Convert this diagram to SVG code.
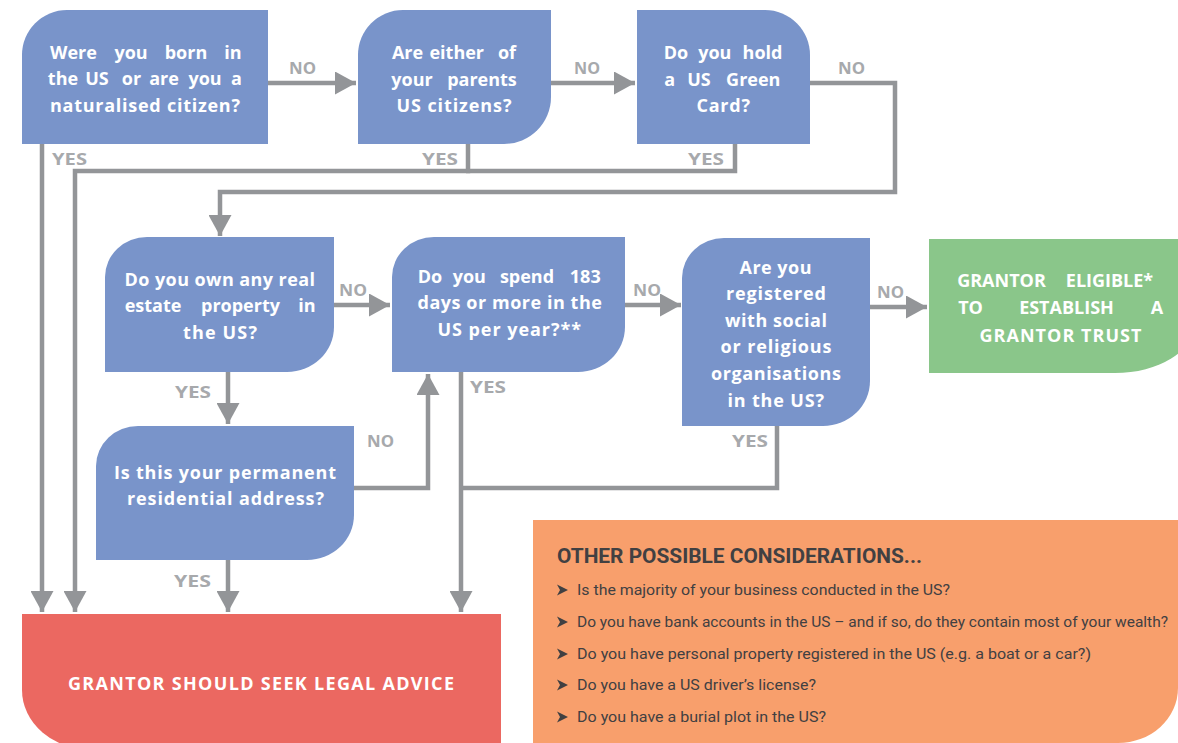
<svg xmlns="http://www.w3.org/2000/svg" width="1178" height="743" viewBox="0 0 1178 743">
<style>
.q{fill:#7994CA}
.t{font-family:"Open Sans",Roboto,"Liberation Sans",sans-serif;font-weight:700;font-size:18px;fill:#fff}
.m{text-anchor:middle}
.lbl{font-family:"Open Sans",Roboto,"Liberation Sans",sans-serif;font-weight:700;font-size:16.5px;fill:#A7A9AC}
.ln{fill:none;stroke:#939598;stroke-width:4.5}
.ar{marker-end:url(#ah)}
.h{font-family:Roboto,"Liberation Sans",sans-serif;font-weight:700;font-size:19.5px;fill:#414042}
.b{font-family:Roboto,"Liberation Sans",sans-serif;font-weight:400;font-size:14.5px;fill:#414042}
</style>
<defs>
<marker id="ah" markerUnits="userSpaceOnUse" markerWidth="22" markerHeight="23" refX="21" refY="11.5" orient="auto" viewBox="0 0 22 23">
<path d="M0,0 L21,11.5 L0,23 Z" fill="#939598"/>
</marker>
<path id="chev" d="M0,-5.5 L11,0 L0,5.5 L3,0 Z" fill="#414042"/>
</defs>
<rect width="1178" height="743" fill="#fff"/>

<g id="connectors">
<path class="ln ar" d="M268,83 H356"/>
<path class="ln ar" d="M551,83 H635"/>
<path class="ln ar" d="M810,83 H895 V192 H220 V236"/>
<path class="ln ar" d="M42,144 V612"/>
<path class="ln ar" d="M468,144 V171 H75 V612"/>
<path class="ln" d="M735,144 V171 H466"/>
<path class="ln ar" d="M334,305 H390"/>
<path class="ln ar" d="M625,305 H681"/>
<path class="ln ar" d="M870,307 H927"/>
<path class="ln ar" d="M228,372 V424"/>
<path class="ln ar" d="M354,488 H428 V374"/>
<path class="ln ar" d="M461,372 V612"/>
<path class="ln" d="M777,426 V488 H459"/>
<path class="ln ar" d="M228,560 V612"/>
</g>

<g id="labels">
<text class="lbl" x="289" y="74" textLength="27" lengthAdjust="spacingAndGlyphs">NO</text>
<text class="lbl" x="574" y="74" textLength="26" lengthAdjust="spacingAndGlyphs">NO</text>
<text class="lbl" x="838" y="74" textLength="27" lengthAdjust="spacingAndGlyphs">NO</text>
<text class="lbl" x="52" y="165" textLength="35" lengthAdjust="spacingAndGlyphs">YES</text>
<text class="lbl" x="422" y="165" textLength="36" lengthAdjust="spacingAndGlyphs">YES</text>
<text class="lbl" x="688" y="165" textLength="36" lengthAdjust="spacingAndGlyphs">YES</text>
<text class="lbl" x="339" y="296" textLength="28" lengthAdjust="spacingAndGlyphs">NO</text>
<text class="lbl" x="633" y="296" textLength="28" lengthAdjust="spacingAndGlyphs">NO</text>
<text class="lbl" x="877" y="298" textLength="27" lengthAdjust="spacingAndGlyphs">NO</text>
<text class="lbl" x="175" y="398" textLength="36" lengthAdjust="spacingAndGlyphs">YES</text>
<text class="lbl" x="470" y="393" textLength="36" lengthAdjust="spacingAndGlyphs">YES</text>
<text class="lbl" x="367" y="447" textLength="27" lengthAdjust="spacingAndGlyphs">NO</text>
<text class="lbl" x="732" y="447" textLength="36" lengthAdjust="spacingAndGlyphs">YES</text>
<text class="lbl" x="174" y="587" textLength="37" lengthAdjust="spacingAndGlyphs">YES</text>
</g>

<g id="q1">
<path class="q" d="M22,144 V55 A45,45 0 0 1 67,10 H268 V144 Z"/>
<text class="t m" y="58.5"><tspan x="73.5">Were</tspan><tspan x="131">you</tspan><tspan x="186">born</tspan><tspan x="233">in</tspan></text>
<text class="t m" y="85"><tspan x="63">the</tspan><tspan x="97">US</tspan><tspan x="131.5">or</tspan><tspan x="164">are</tspan><tspan x="205">you</tspan><tspan x="236.5">a</tspan></text>
<text class="t" x="50" y="111.5" textLength="190">naturalised citizen?</text>
</g>

<g id="q2">
<path class="q" d="M358,144 V55 A45,45 0 0 1 403,10 H551 V97 A47,47 0 0 1 504,144 Z"/>
<text class="t m" y="59"><tspan x="407.5">Are</tspan><tspan x="456.75">either</tspan><tspan x="507">of</tspan></text>
<text class="t m" y="85.5"><tspan x="412">your</tspan><tspan x="482">parents</tspan></text>
<text class="t" x="396.5" y="112" textLength="115">US citizens?</text>
</g>

<g id="q3">
<path class="q" d="M637,10 H765 A45,45 0 0 1 810,55 V144 H637 Z"/>
<text class="t m" y="59"><tspan x="676">Do</tspan><tspan x="714.75">you</tspan><tspan x="762.5">hold</tspan></text>
<text class="t m" y="85.5"><tspan x="669.75">a</tspan><tspan x="699">US</tspan><tspan x="753.25">Green</tspan></text>
<text class="t" x="696.5" y="112" textLength="53.5">Card?</text>
</g>

<g id="q4">
<path class="q" d="M105,372 V277 A42,40 0 0 1 147,237 H334 V327 A47,45 0 0 1 287,372 Z"/>
<text class="t" x="124.5" y="286" textLength="190.5">Do you own any real</text>
<text class="t m" y="312"><tspan x="153">estate</tspan><tspan x="240.5">property</tspan><tspan x="307">in</tspan></text>
<text class="t" x="183" y="338.5" textLength="74">the US?</text>
</g>

<g id="q5">
<path class="q" d="M392,372 V277 A42,40 0 0 1 434,237 H625 V327 A47,45 0 0 1 578,372 Z"/>
<text class="t m" y="283"><tspan x="430">Do</tspan><tspan x="469.25">you</tspan><tspan x="527">spend</tspan><tspan x="585.25">183</tspan></text>
<text class="t" x="417.5" y="309" textLength="184.5">days or more in the</text>
<text class="t" x="437.5" y="336" textLength="143.5">US per year?**</text>
</g>

<g id="q6">
<path class="q" d="M682,426 V278 A42,40 0 0 1 724,238 H870 V381 A47,45 0 0 1 823,426 Z"/>
<text class="t" x="739.5" y="274" textLength="72">Are you</text>
<text class="t" x="726" y="300" textLength="100">registered</text>
<text class="t" x="725" y="327" textLength="102">with social</text>
<text class="t" x="720.5" y="353" textLength="111">or religious</text>
<text class="t" x="711" y="380" textLength="130">organisations</text>
<text class="t" x="727.5" y="406.5" textLength="96.5">in the US?</text>
</g>

<g id="eligible">
<path fill="#8AC68A" d="M929,239 H1195 V323 A80,50 0 0 1 1115,373 H929 Z"/>
<text class="t m" y="287"><tspan x="1001.5">GRANTOR</tspan><tspan x="1109.5">ELIGIBLE*</tspan></text>
<text class="t m" y="314"><tspan x="970.5">TO</tspan><tspan x="1066.5">ESTABLISH</tspan><tspan x="1157">A</tspan></text>
<text class="t" x="979.5" y="341.5" textLength="162">GRANTOR TRUST</text>
</g>

<g id="q7">
<path class="q" d="M96,560 V466 A42,40 0 0 1 138,426 H354 V515 A47,45 0 0 1 307,560 Z"/>
<text class="t" x="114" y="479" textLength="222">Is this your permanent</text>
<text class="t" x="127" y="505" textLength="197">residential address?</text>
</g>

<g id="advice">
<path fill="#EB6861" d="M22,614 H501 V750 H92 A70,60 0 0 1 22,690 Z"/>
<text class="t" x="68" y="690" textLength="386">GRANTOR SHOULD SEEK LEGAL ADVICE</text>
</g>

<g id="considerations">
<path fill="#F89F6C" d="M533,520 H1178 V688 A60,55 0 0 1 1118,743 H533 Z"/>
<text class="h" x="557" y="563" textLength="365" lengthAdjust="spacingAndGlyphs">OTHER POSSIBLE CONSIDERATIONS...</text>
<use href="#chev" x="557" y="590"/>
<text class="b" x="577" y="595" textLength="373" lengthAdjust="spacingAndGlyphs">Is the majority of your business conducted in the US?</text>
<use href="#chev" x="557" y="622"/>
<text class="b" x="577" y="627" textLength="591" lengthAdjust="spacingAndGlyphs">Do you have bank accounts in the US – and if so, do they contain most of your wealth?</text>
<use href="#chev" x="557" y="654"/>
<text class="b" x="577" y="659" textLength="514" lengthAdjust="spacingAndGlyphs">Do you have personal property registered in the US (e.g. a boat or a car?)</text>
<use href="#chev" x="557" y="685"/>
<text class="b" x="577" y="690" textLength="239" lengthAdjust="spacingAndGlyphs">Do you have a US driver’s license?</text>
<use href="#chev" x="557" y="717"/>
<text class="b" x="577" y="722" textLength="249" lengthAdjust="spacingAndGlyphs">Do you have a burial plot in the US?</text>
</g>
</svg>
